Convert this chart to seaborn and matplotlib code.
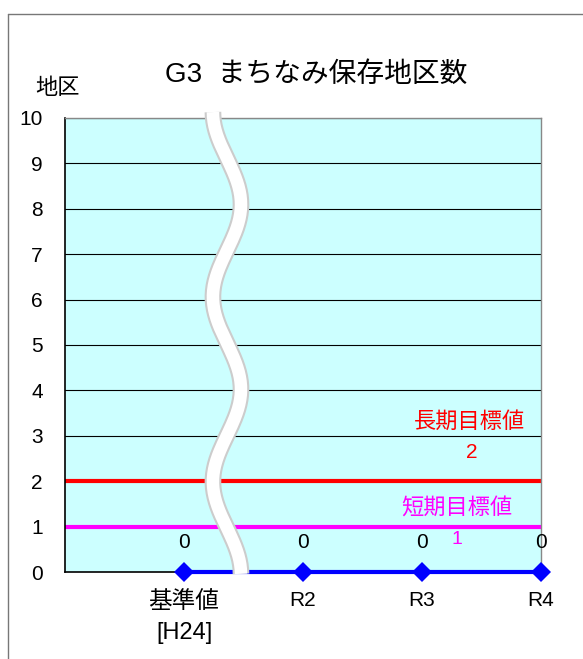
import numpy as np
import pandas as pd
import seaborn as sns
import matplotlib.pyplot as plt
import matplotlib.patheffects as pe
from matplotlib.lines import Line2D

# data
categories = ["基準値\n[H24]", "R2", "R3", "R4"]
values = [0, 0, 0, 0]
long_target = 2
short_target = 1

sns.set_theme(style="white")
plt.rcParams['font.family'] = ['Liberation Sans', 'Noto Sans CJK JP']
plt.rcParams['text.color'] = 'black'
plt.rcParams['xtick.color'] = 'black'
plt.rcParams['ytick.color'] = 'black'

fig = plt.figure(figsize=(5.83, 6.59), dpi=100)
ax = fig.add_axes([0.1115, 0.132, 0.8165, 0.689])
ax.set_facecolor("#CCFFFF")

df = pd.DataFrame({"x": range(len(categories)), "v": values})

# grid
for yv in range(1, 11):
    ax.axhline(yv, color="black", lw=0.8, zorder=1)

ax.axhline(long_target, color="#FF0000", lw=3, zorder=2)
ax.axhline(short_target, color="#FF00FF", lw=3, zorder=2)

sns.lineplot(data=df, x="x", y="v", ax=ax, color="#0000FF", lw=3,
             marker="D", markersize=10, markeredgewidth=0, zorder=4, clip_on=False)

for xi, v in zip(df["x"], df["v"]):
    ax.text(xi, v + 0.66, str(v), ha="center", va="center", fontsize=15, color="black")

ax.text(2.40, 3.30, "長期目標値", color="#FF0000", ha="center", va="center", fontsize=16)
ax.text(2.42, 2.64, str(long_target), color="#FF0000", ha="center", va="center", fontsize=15)
ax.text(2.29, 1.39, "短期目標値", color="#FF00FF", ha="center", va="center", fontsize=16)
ax.text(2.29, 0.72, str(short_target), color="#FF00FF", ha="center", va="center", fontsize=14)

# break mark (decoration)
yy = np.linspace(-0.04, 10.13, 200)
xx = 0.361 - 0.118 * np.cos(2 * np.pi * (10.13 - yy) / 4.07)
ax.plot(xx, yy, color="white", lw=9, zorder=5, clip_on=False, solid_capstyle="butt",
        path_effects=[pe.Stroke(linewidth=12, foreground="#CCCCCC"), pe.Normal()])

ax.set_xlim(-1, 3)
ax.set_ylim(0, 10)
ax.set_yticks(range(0, 11))
ax.set_xticks(df["x"])
ax.set_xticklabels(categories, fontsize=15, linespacing=1.5)
ax.get_xticklabels()[0].set_fontsize(17)
ax.tick_params(axis="y", labelsize=15, length=0, pad=16)
ax.tick_params(axis="x", length=0, pad=14)
ax.set_xlabel("")
ax.set_ylabel("")

for s in ["top", "right"]:
    ax.spines[s].set_color("#888888")
    ax.spines[s].set_linewidth(1)
for s in ["left", "bottom"]:
    ax.spines[s].set_color("black")
    ax.spines[s].set_linewidth(1.2)

fig.text(316 / 583, 1 - 75 / 659, "G3  まちなみ保存地区数", ha="center", va="center", fontsize=20)
fig.text(57 / 583, 1 - 88 / 659, "地区", ha="center", va="center", fontsize=16)

# outer border
fig.add_artist(Line2D([8 / 583, 8 / 583], [0, 1 - 14 / 659], color="#777777", lw=1))
fig.add_artist(Line2D([8 / 583, 1], [1 - 14 / 659, 1 - 14 / 659], color="#777777", lw=1))

fig.savefig("out.png", dpi=100)
